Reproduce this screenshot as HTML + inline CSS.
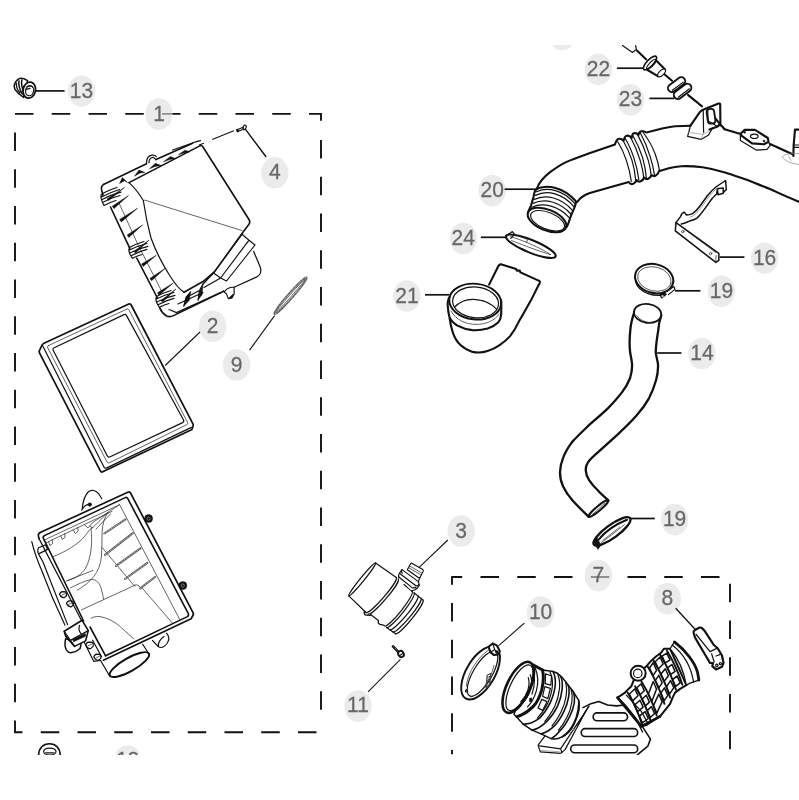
<!DOCTYPE html>
<html><head><meta charset="utf-8"><title>Air cleaner parts diagram</title>
<style>
html,body{margin:0;padding:0;background:#fff;}
body{width:799px;height:800px;overflow:hidden;font-family:"Liberation Sans",sans-serif;}
svg{display:block}
.lb ellipse{fill:rgba(222,222,222,.62)}
.lt text{font-family:"Liberation Sans",sans-serif;font-size:21px;fill:#666;stroke:#666;stroke-width:.25;text-anchor:middle}
.fr{fill:none;stroke:#111;stroke-width:1.9}
.ld{fill:none;stroke:#111;stroke-width:1.05}
.p{fill:none;stroke:#111;stroke-width:1.2;stroke-linecap:round;stroke-linejoin:round}
.w{fill:#fff;stroke:#111;stroke-width:1.15;stroke-linecap:round;stroke-linejoin:round}
.t{fill:none;stroke:#222;stroke-width:.7;stroke-linecap:round;stroke-linejoin:round}
.b{fill:none;stroke:#111;stroke-width:2.1;stroke-linecap:round;stroke-linejoin:round}
.nss *, .nssd{vector-effect:non-scaling-stroke}
.k{fill:#111;stroke:#111;stroke-width:.5;stroke-linejoin:round}
</style></head>
<body>
<svg width="799" height="800" viewBox="0 0 799 800">
<defs><clipPath id="cp"><rect x="0" y="45" width="799" height="709.3"/></clipPath></defs>
<rect width="799" height="800" fill="#fff"/>
<g clip-path="url(#cp)">
<path class="fr" d="M15.00 113.9H33.50M51.75 113.9H70.25M88.50 113.9H107.00M125.25 113.9H143.75M162.00 113.9H180.50M198.75 113.9H217.25M235.50 113.9H254.00M272.25 113.9H290.75M309.00 113.9H322.00M15 132.50V151.00M15 169.25V187.75M15 206.00V224.50M15 242.75V261.25M15 279.50V298.00M15 316.25V334.75M15 353.00V371.50M15 389.75V408.25M15 426.50V445.00M15 463.25V481.75M15 500.00V518.50M15 536.75V555.25M15 573.50V592.00M15 610.25V628.75M15 647.00V665.50M15 683.75V702.25M15 720.50V733.00M15 721.5V732.2H22.5M321 140.00V158.50M321 176.75V195.25M321 213.50V232.00M321 250.25V268.75M321 287.00V305.50M321 323.75V342.25M321 360.50V379.00M321 397.25V415.75M321 434.00V452.50M321 470.75V489.25M321 507.50V526.00M321 544.25V562.75M321 581.00V599.50M321 617.75V636.25M321 654.50V673.00M321 691.25V709.75M321 113V120.8M40.75 732.2H59.25M77.50 732.2H96.00M114.25 732.2H132.75M151.00 732.2H169.50M187.75 732.2H206.25M224.50 732.2H243.00M261.25 732.2H279.75M298.00 732.2H316.50M451.20 577H462.25M480.50 577H499.00M517.25 577H535.75M554.00 577H572.50M590.75 577H609.25M627.50 577H646.00M664.25 577H682.75M701.00 577H719.50M452 577.00V584.75M452 603.00V621.50M452 639.75V658.25M452 676.50V695.00M452 713.25V731.75M452 750.00V760.00M730 583.75V602.25M730 620.50V639.00M730 657.25V675.75M730 694.00V712.50M730 730.75V749.25"/>
<g class="lb"><ellipse cx="81.5" cy="91.2" rx="13.7" ry="15.8"/><ellipse cx="159" cy="114" rx="13.7" ry="15.8"/><ellipse cx="274.8" cy="172.8" rx="13.7" ry="15.8"/><ellipse cx="212.7" cy="326.3" rx="13.7" ry="15.8"/><ellipse cx="236.6" cy="365" rx="13.7" ry="15.8"/><ellipse cx="461.2" cy="531" rx="13.7" ry="15.8"/><ellipse cx="358" cy="706" rx="13.7" ry="15.8"/><ellipse cx="540.6" cy="612" rx="13.7" ry="15.8"/><ellipse cx="598.4" cy="575.6" rx="13.7" ry="15.8"/><ellipse cx="667.3" cy="598.6" rx="13.7" ry="15.8"/><ellipse cx="674.6" cy="519.6" rx="13.7" ry="15.8"/><ellipse cx="702" cy="353.5" rx="13.7" ry="15.8"/><ellipse cx="721.4" cy="291.3" rx="13.7" ry="15.8"/><ellipse cx="764.6" cy="258.2" rx="13.7" ry="15.8"/><ellipse cx="406.9" cy="296" rx="13.7" ry="15.8"/><ellipse cx="463.3" cy="238.5" rx="13.7" ry="15.8"/><ellipse cx="492.2" cy="190.6" rx="13.7" ry="15.8"/><ellipse cx="598.4" cy="69.4" rx="13.7" ry="15.8"/><ellipse cx="630.5" cy="99.9" rx="13.7" ry="15.8"/><ellipse cx="127.6" cy="761" rx="13.7" ry="15.8"/><ellipse cx="562.2" cy="34.5" rx="13.7" ry="15.8"/></g>
<g class="lt" style="opacity:.995"><text transform="translate(81.5 97.7) scale(1 1.07)">13</text><text transform="translate(159 120.5) scale(1 1.07)">1</text><text transform="translate(274.8 179.3) scale(1 1.07)">4</text><text transform="translate(212.7 332.8) scale(1 1.07)">2</text><text transform="translate(236.6 371.5) scale(1 1.07)">9</text><text transform="translate(461.2 537.5) scale(1 1.07)">3</text><text transform="translate(358 712.5) scale(1 1.07)">11</text><text transform="translate(540.6 618.5) scale(1 1.07)">10</text><text transform="translate(598.4 582.1) scale(1 1.07)">7</text><text transform="translate(667.3 605.1) scale(1 1.07)">8</text><text transform="translate(674.6 526.1) scale(1 1.07)">19</text><text transform="translate(702 360.0) scale(1 1.07)">14</text><text transform="translate(721.4 297.8) scale(1 1.07)">19</text><text transform="translate(764.6 264.7) scale(1 1.07)">16</text><text transform="translate(406.9 302.5) scale(1 1.07)">21</text><text transform="translate(463.3 245.0) scale(1 1.07)">24</text><text transform="translate(492.2 197.1) scale(1 1.07)">20</text><text transform="translate(598.4 75.9) scale(1 1.07)">22</text><text transform="translate(630.5 106.4) scale(1 1.07)">23</text><text transform="translate(127.6 767.5) scale(1 1.07)">12</text></g>
<!-- p01_cover.svg -->
<g id="cover">
<!-- lid face -->
<path class="b" style="stroke-width:1.6" d="M129 182.6L200.3 145.6Q202 145.3 203 147L249 219.5Q250.6 222 249 224.2L242 233.5L214.6 271.6L203 281.5L184 292.3"/>
<path class="p" d="M129 182.6C135 188 140 195 143.3 200.5C145 212 147.5 225 151 238C156 252 163 265 170 276C175 284 179 289 184 292.3"/>
<path class="t" d="M143.3 200.5C145 199.5 147 200.8 149 201.5L242 230.6"/>
<!-- top rim -->
<path class="b" style="stroke-width:1.6" d="M104 184.3L146.5 163.8M156 159.6L192.6 143.2"/>
<path class="p" d="M172.6 150L194.6 142.2L200.5 140.6"/>
<path class="b" style="stroke-width:1.6" d="M104 184.3C101.5 185.6 101 187.5 101.6 190L103 195.2"/>
<path class="p" d="M146.5 163.8C146.3 159 148.5 155.6 152 155.2C154 155 155.5 155.6 156.3 156.6M149 162.8C148.8 159.6 150.5 157.2 153.2 157.3L156 159.6"/>
<!-- top ribs -->
<path class="k" d="M119.6 183.5L122.3 177.6L127.6 182.6L124.5 180.8ZM134.5 176.2L139 170L144.8 172.5L140 173ZM149.5 168.8L155.5 163.3L161 165.5L155 166.4ZM163.5 161.8L170.5 156.6L175.5 158.6L169.5 159.6ZM178.5 154.6L185 150.2L189.8 151.8L184 153Z"/>
<!-- left edge -->
<path class="b" style="stroke-width:1.6" d="M110.5 207L129.8 248.3M136.8 258.2L157.4 298"/>
<path class="t" d="M119 203L137.5 243.7L161.6 291.2"/>
<!-- left ribs -->
<path class="k" d="M112.3 206.2L128.5 195.5L114 208.6ZM119.6 219.6L137.5 208.3L121.3 222ZM127.2 235L142.5 225L128.8 237.4ZM141.6 264L156.3 255.2L143.2 266.4ZM149.9 278.4L165 268.5L151.5 280.8ZM157.5 292.8L173.3 283L159 295.2Z"/>
<!-- top-left clip -->
<path class="p" d="M101.2 194.5C105 192 112 189 117 187.5M101 197.2C106 194.5 113 191.5 119.5 189.5M101.6 199.8C107 197 114 194 121 192.2M102.5 202.5C108 199.5 114 197 120 195.5M104 205.5C108 203.5 112 201.5 116 200.5M101.2 194.5C100.5 197 101.5 201 104 205.5"/>
<path class="k" d="M107 199L124.5 187.5L108.6 200.6Z"/>
<!-- mid-left clip -->
<path class="p" d="M129.5 247.5C133 245.5 139 243 144 241.5M129 250.2C134 247.5 141 245 147 243.5M129.8 253C135 250.2 142 247.6 148 246.3M131 255.7C136 253 142 250.5 147 249.3M132.5 258.3C136 256.5 139 255.3 142 254.5M129.5 247.5C128.3 250 129.5 254.5 132.5 258.3"/>
<path class="k" d="M134 251.5L149 240L135.6 253Z"/>
<!-- bottom-left clip -->
<path class="p" d="M156.5 296.5C160 294.5 166 292 171 290.5M156 299.2C161 296.5 168 294 174 292.5M156.8 302C162 299.2 169 296.6 175 295.3M158 304.7C163 302 169 299.5 174 298.3M159.5 307.3C163 305.5 166 304.3 169 303.5M156.5 296.5C155.3 299 156.5 303.5 159.5 307.3"/>
<path class="k" d="M161 300.5L176 289L162.6 302Z"/>
<!-- bottom flange -->
<path class="b" style="stroke-width:1.6" d="M159.6 307.6C161 311 163.5 314 166.5 316C168.5 317 171 316.8 173.5 315.6L223.6 291.2"/>
<path class="p" d="M169 309.5L176.5 312.6L220.6 292.6M178 304L203 292.5"/>
<path class="p" d="M223.6 291.2L226.6 294.1L228.3 298.6L231.9 297.9L234.1 294.1L234.1 287.3M225 291C227 288.5 231 287 234.1 287.3"/>
<path class="k" d="M183.8 306.1L186.4 297.6L190.6 291.9L189.2 300.4ZM198.1 300.1L200 291.1L202.8 284.3L202.2 294.6ZM228.3 298.6L231.9 297.9L233 294Z"/>
<path class="p" d="M183.8 306.1L186 297.5L190.6 291.9M198.1 300.1L199.5 290.5L202.8 284.3M186 297.5L199.5 290.5"/>
<!-- right steps -->
<path class="p" d="M242 234.3L249 240.2L255 245M242 234.3L213.5 273M249 240.2L220.6 278M255 245L226.5 281M213.5 273L220.6 278L226.5 281M214.6 271.6L203 283.6M220.6 278L204 287.5M213.5 273L202.8 284.3"/>
<!-- right body -->
<path class="p" d="M253.6 251.3L260.4 267.5C261.5 271 260.5 274.5 257.4 276.6L234.1 287.3"/>
<!-- screw 4 + centerline -->
<path class="ld" d="M233.8 130.8L212.2 139.6M204 143.2L199 145"/>
<path class="p" d="M236.6 130L243.2 127.2M237.4 131.8L244 129"/>
<ellipse cx="244.6" cy="127.4" rx="1.5" ry="2.3" transform="rotate(20 244.6 127.4)" class="p"/>
<path class="k" d="M236.3 129.6L238 129L238.8 131.4L237.2 132Z"/>
<path class="ld" style="stroke-width:1.4" d="M245.3 129.2L266.2 157"/>
</g>

<!-- p02_filter.svg -->
<g id="filter">
<path class="b" style="stroke-width:1.7" d="M44 343.3L128.8 304.1Q130.4 303.4 131.2 305L192.8 423.6Q193.8 425.6 192.6 427.2L192 429.4L103.2 471.6Q101.2 472.8 100.2 470.6L39.6 353.2Q38.6 351.2 40 349.4L42 345.2Q42.6 343.9 44 343.3Z"/>
<path class="p" d="M42.4 345.2L103.8 466.8Q104.8 468.9 106.8 467.9L191.4 427.4"/>
<path class="t" d="M48.4 345.6L127 309Q128.2 308.4 128.8 309.6L187.6 422.4Q188.4 423.9 186.9 424.6L109.4 462.8Q107.9 463.6 107.1 462.1L47.6 347.6Q46.9 346.3 48.4 345.6Z"/>
<path class="p" d="M54.2 347.8L124 314.6Q125.6 313.8 126.4 315.4L183.4 419.8Q184.4 421.6 182.6 422.6L110.2 456.8Q108.2 457.8 107.2 455.8L53.2 350.2Q52.4 348.6 54.2 347.8Z"/>
<path class="ld" d="M165.2 365.5L200 332"/>
</g>

<!-- p03_housing.svg -->
<g id="housing">
<!-- outlet tube behind -->
<path class="p" d="M100.6 660.5L109.8 676.2M142.7 644.3L148.9 654"/>
<ellipse cx="129.4" cy="664.6" rx="22.4" ry="6.6" transform="rotate(-29.5 129.4 664.6)" class="b" style="stroke-width:2"/>
<!-- lower mount stub -->
<path class="p" d="M152.5 640.5L158.5 646.8C161 648.2 164.5 646.8 167 643.5C169 640.5 169.3 637 167.6 634.6L166.5 633.2M158.5 646.8C157.5 643.5 160 639 164 636.5"/>
<!-- top hinge arch -->
<path class="p" d="M82.2 509.8C82.6 504 84.6 495.5 88.4 491.8C91.5 489.2 96 490.2 99 494.2L101.8 498.8M81.6 510L84.8 506C86.4 504.6 89 504 91 504.6"/>
<circle cx="89.8" cy="504.6" r="1.8" class="k"/>
<!-- rim -->
<path class="b" style="stroke-width:1.7" d="M40.2 532.6L127.8 492.2Q129.7 491.4 130.6 493.2L192.9 612.4Q194.2 614.8 192 616.8L191.6 618.4L103.4 660.2"/>
<path class="b" style="stroke-width:1.7" d="M40.2 532.6Q38 533.8 38.4 536L39 538.6"/>
<path class="b" style="stroke-width:1.6" d="M44.4 535.6L125.2 497.6Q126.9 496.8 127.8 498.6L188.2 613.4Q189.2 615.4 187.4 616.6L105.6 655.8"/>
<path class="b" style="stroke-width:1.6" d="M44.4 535.6Q42.6 536.6 43.4 538.4L83.6 621M90 627L105.6 655.8"/>
<path class="p" d="M39 538.6L81.6 620.8"/>
<!-- inner wall lines right -->
<path class="t" d="M119.3 504.1L179.9 619.8M142 587.9L172.3 623"/>
<!-- bolts -->
<circle cx="148.6" cy="518.6" r="4" class="k"/><circle cx="148.6" cy="518.6" r="1.6" fill="none" stroke="#999" stroke-width=".7"/>
<circle cx="182.8" cy="585.6" r="4" class="k"/><circle cx="182.8" cy="585.6" r="1.6" fill="none" stroke="#999" stroke-width=".7"/>
<!-- under-rim double line and teeth -->
<path class="t" d="M44 540.2L119 505M45.6 543L112 511.4"/>
<path class="t" d="M48.6 541.6L49.8 545.6L52.6 543.6L52.2 539.8M60.8 536L62.2 539.4L65 537.4L64.8 533.6M73.4 530L75.4 533.6L78.2 531L77.6 527.4M84.4 524.6L88 528L92.6 522.6L119 505M92.6 527.8L107.8 512.6M92.6 527.8L90.2 526.4M96 529L110.5 514"/>
<!-- floor contours -->
<path class="t" d="M53.2 556.6C64 552.4 78 545 85.6 535.2C88.6 531 90.6 528.6 92.2 527.6"/>
<path class="t" d="M91.1 528.2C91.6 536 92 542 91.1 548.8C90.4 556 88.6 562.4 85.6 568.2C81.6 574.6 75 578.6 67.6 580.6"/>
<path class="t" d="M107.8 512.6C104.6 517 102.4 524 102.1 532.3C101.8 541 102 549 101.4 557.2C100.4 564.6 98 571.6 93.8 576.4C89.6 582 83.6 586.6 77.2 590.2"/>
<path class="t" d="M102.1 547.5L134.4 586M66.3 581L93 570.4M81.4 609.9L135.1 585.1M135.1 585.1C137.2 584.2 139 585.4 139.9 587.4M70.4 588C76 585.4 84 580.6 91.1 579.6C96 579 100 583 101.4 589.4C102.6 594 103.4 597 103.5 599"/>
<path class="t" d="M91.1 618.3C94 616.4 98 616 102 617C110 619 117 623.4 121.4 627.8C126.6 632.6 130.6 636 133.8 638.9"/>
<!-- ribs -->
<g stroke="#555" stroke-width="2.1" fill="none" stroke-linecap="round"><path d="M104.3 533.5L125.4 519.3M105 554.8L132.8 533.2M116 565.8L140.4 548.3M125 579L147.3 562.8M140.2 588.4L155 577"/></g>
<g stroke="#fff" stroke-width=".7" fill="none" stroke-dasharray="1.2 .8"><path d="M104.3 533.5L125.4 519.3M105 554.8L132.8 533.2M116 565.8L140.4 548.3M125 579L147.3 562.8M140.2 588.4L155 577"/></g>
<!-- left rails -->
<path class="p" d="M31.8 541.6C34 551 37.4 560.6 41.5 570C47.6 586.6 56 606.6 64.9 625M38.8 554.4L43 562L67.6 624.6M38.6 547.8L45.4 544.8L47.6 549.4L39.6 553.4M38.8 554.4C37.6 552 37.4 549.6 38.6 547.8"/>
<!-- small tabs on rail -->
<path class="p" d="M59.6 594.4Q60 591.8 62.6 591.6L65.6 591.8Q67 593.6 66.4 595.8L64.2 597.6Q61.2 598 59.6 594.4ZM66.4 603.6Q67 601 69.6 600.8L72.6 601Q74 602.8 73.4 605L71.2 606.8Q68.2 607.2 66.4 603.6Z"/>
<path class="t" d="M61.6 595.2L65.2 593.6M68.4 604.4L72 602.8"/>
<path class="p" d="M85.8 645Q86.2 642.4 89 642.2L92.4 642.4Q93.8 644.2 93.2 646.4L90.6 648.6Q87.4 649 85.8 645ZM93.8 657Q94.4 654.4 97 654.2L100 654.4Q101.4 656.2 100.8 658.4L98.6 660.2Q95.6 660.6 93.8 657Z"/>
<path class="t" d="M87.8 646L91.6 644.2M95.8 658L99.4 656.2"/>
<path class="p" d="M84.4 642.6L93.8 661.4L100.6 660.5M92.6 640.2L101.6 656.8"/>
<!-- latch -->
<path class="w" style="stroke-width:1.5" d="M65.6 638.8C64.6 643 65 647 66.3 649.8C68 652.4 70 653 71.8 652.6C75 652 78 650.4 80.1 648.5L81.2 643.6Z"/>
<path class="w" style="stroke-width:1.6" d="M64.2 631.3L82.1 620.3L88.3 630.6L85.6 640.9L74.6 646.4L65.6 636.1Z"/>
<path class="p" d="M64.2 631.3L70.4 640.4L88.3 630.6M70.4 640.4L74.6 646.4M79.6 625.4C78.6 628 79 631.6 81.4 634.2"/>
<path class="k" d="M72.8 639.6L85.4 633.6L85.6 636.2L73.6 641.8Z"/>
</g>

<!-- p04_maf.svg -->
<g id="maf">
<!-- section1 -->
<path class="p" d="M375.6 562.9L396.3 577.4M348.8 595.9L366 612.5"/>
<ellipse cx="362.2" cy="579.4" rx="21.3" ry="1.9" transform="rotate(-50.9 362.2 579.4)" class="p"/>
<!-- band1 -->
<path class="p" d="M396.3 577.4A23.2 3.6 -49.2 0 1 366 612.5M398.3 579A23.2 3.6 -49.2 0 1 368 614.1"/>
<path class="p" d="M366 612.5L364.2 611.6Q363.6 614.4 366 615.2L370.6 615.4"/>
<!-- section2 -->
<path class="p" d="M404 584.5L412.1 591.3M370.6 614.6L378.4 620.6M378.4 620.6Q377.6 623.4 380 624.4L384.2 625.4"/>
<!-- band2 -->
<path class="p" d="M412.1 591.3A22 3.6 -51.4 0 1 384.6 625.9M414 592.8A22 3.6 -51.4 0 1 386.5 627.4"/>
<!-- end -->
<path class="p" d="M414 592.8L423.1 600.1M386.5 627.4L395.6 633.8"/>
<path class="p" d="M417.6 595.7A21.5 3.4 -50.3 0 1 390.1 629.9M421 598.2A21.5 3.4 -50.3 0 1 392.8 631.9M423.1 600.1A21.8 3.4 -50.8 0 1 395.6 633.8"/>
<!-- tower -->
<path class="w" d="M398.6 577.6Q398.2 574.6 400.2 572L402 569.6L418.4 581.6L419.4 585.4L416.8 588.6L414.6 590L411.6 590.8"/>
<path class="p" d="M399.4 573.2L415.6 585.4Q417.2 586.6 418.6 584.6M398.8 577L411.8 587.4Q413.4 588.6 415 587.2L416.8 588.6M402 569.6Q400.6 571.6 402.2 573"/>
<path class="w" d="M407.3 569.8L410.6 563.7Q411.2 562.8 412.2 563.4L422.8 569.6Q423.6 570.2 423.2 571.2L420 577.4Q419.4 578.2 418.6 577.8Z"/>
<path class="p" d="M420 577.4L418.4 581.6"/>
<path class="t" d="M409.6 566L421.6 572.8M408.8 567.8L420.6 574.6"/>
<path class="ld" d="M419.2 567.4L447.8 540"/>
</g>

<!-- p05_screw11.svg -->
<g id="screw11">
<path d="M393 646.4L399 652.6" stroke="#111" stroke-width="2.8" stroke-linecap="round" fill="none"/>
<path d="M393.4 646.6L398.6 652" stroke="#ddd" stroke-width=".8" stroke-dasharray="1 1" fill="none"/>
<ellipse cx="401" cy="654" rx="2.7" ry="3.2" transform="rotate(-30 401 654)" fill="#fff" stroke="#111" stroke-width="1.9"/>
<path class="p" d="M399.6 655.8L402.4 653.6"/>
<path class="ld" d="M368 691.8L400.4 659.4"/>
</g>

<!-- p06_pipe20.svg -->
<g id="pipe20">
<!-- body upper edge -->
<path class="b" d="M537 188.5C538.5 184 543 177.5 550.1 172.1C555 168.5 560 165 566.1 162.1C574 158.6 582 156 590.1 153.1L615 144.4C616 141 617.4 139 618.8 138.8C621 138.4 622.4 139.4 623.6 140.8C624.2 137.6 625.6 135.9 626.9 135.7C629 135.4 630.4 136.4 631.6 138C632 135 633 133.4 633.8 133.2C636 132.8 637.4 133.6 638.4 135C638.8 132.8 640 131.6 641.3 131.3C643.4 131 645 131.6 646.3 132.5L656.3 130C663 128.4 669 127 675.1 126.3L690.5 125.7"/>
<!-- body lower edge -->
<path class="b" d="M577.1 202C579 199 582 196.6 585.1 195C588 193.4 591.6 192.4 595.1 191.5L628.8 182C630 184 631.6 184.4 633.2 183.8C635 183 636 181.6 636.4 180C638 181.6 639.4 182 640.7 181.3C642.6 180.4 643.6 179 644 177.6C645.6 179 647 179.4 648.2 178.8C650 178 651 176.6 651.5 175.2C653 176.2 654.4 176.4 655.7 175.7C657.6 174.6 658.6 173 658.8 171.3L668.8 168.2C673 167.2 677 166.6 681.4 166.3C688 165.9 695 166.4 702.5 167.3C710 168.4 718 170.4 725 172.5C733 175 740 177.5 747.5 180C755 183 762 186 770 189C780 193.6 790 198 799.5 202"/>
<!-- bellows ridges -->
<path class="p" d="M617.5 141.3C621 147 624.2 153.6 626.3 160.1C628.6 167 630.4 174.6 631.3 181.3M623.2 140.7C626.6 146.6 629.8 153.6 631.9 160.1C634 167 635.2 174 635.7 180.1M625 138.2C628.6 144 631.6 151 633.8 157.6C636.2 165 638 172.6 638.8 179.5M630.7 137.5C634.6 144.6 637.8 152.6 640.1 160.1C642 166.6 643.4 173 643.8 178.8M632.5 135C636.6 142 640.2 150 642.6 157.6C644.6 164.6 645.8 171.4 646.3 177.6M637.5 134.4C641.8 142.2 645.6 151.6 648.2 160.1C649.8 165.6 650.8 171 651.3 176.3M640.1 132.5C644 139.6 647.6 148 650.1 156.3C652 162.4 653.6 168.6 654.4 174.5M643.2 132.5C648 139 652.4 146.4 655.1 153.8C657.2 159.4 658.6 165 659.4 170.1"/>
<!-- mouth -->
<path class="b" d="M537 188.5L535 191C534 193.4 533.8 195.4 533.5 197L531 205.6C530 208.4 528.4 210.6 527.8 213.4M576.1 202C575.6 204.4 574.8 206.4 574.1 208.4L571.1 215.4L568.6 222.6L567 226.6"/>
<path class="b" d="M535 189.6C541 186.6 548 186 555.5 188C563 190 570 194.6 575.6 201"/>
<path class="p" d="M536.6 191.8C542 189.2 549 188.8 555.4 190.6C562.6 192.6 569 196.6 574.6 203.4M535.4 195.4C541 192.6 548 192 555 193.8C562 195.8 568.4 200 573.6 206.4M534.4 199.4C540 196.6 547 196.2 553.6 198C560.6 200 567 204 572.2 210.2M533 203.4C539 200.6 545.6 200.2 552.2 202C559.2 204 565.6 208 570.8 214M531.8 207.2C537.6 204.6 544.4 204.4 551 206.2C558 208.2 564.2 212 569.4 217.8"/>
<ellipse cx="547" cy="220" rx="20.4" ry="10.4" transform="rotate(22 547 220)" class="b" style="stroke-width:2.1;fill:#fff"/>
<ellipse cx="547.6" cy="220.8" rx="18" ry="8.4" transform="rotate(22 547.6 220.8)" class="p"/>
<path class="fr" style="stroke-width:1.7" d="M504.6 189.2H534.6"/>
<!-- bracket on pipe -->
<path class="b" d="M690.5 125.7L699.8 112.2Q701.6 110 704.2 109.2L718.6 103.6Q720.2 103.2 720.2 104.8L720.4 123.6L717.6 126.4L709.4 129.6"/>
<path class="p" d="M707.6 108.2L708.2 121M703.2 110.4L703.6 132.6M690.5 125.7L687.6 136.4L701 139.4L708.6 135L712.2 128.4M717.6 126.4L708.2 121" />
<path class="t" style="stroke:#999" d="M688.4 132.4L703.4 134.4L709.6 130.6M701 139.4L703.6 132.6"/>
<rect x="707.2" y="109" width="7.6" height="14.6" rx="3" ry="3" transform="rotate(-8 711 116.3)" class="b" style="stroke-width:1.8"/>
<path class="b" d="M715.6 118.6L719.6 123.6L724.6 129.2"/>
<path class="p" d="M719.2 125.6Q722.6 125.2 724.6 129.2"/>
<path class="b" d="M724.6 129.2L740.6 134"/>
<!-- axis line to bracket -->
<path class="ld" d="M687.5 94.5L701.8 106.5"/>
<!-- oval flange -->
<path class="b" d="M740.8 133.6L744.5 129.9H755L767.8 138L768.5 141.8L764 144.2L752 143.4L741.4 135.6Z"/>
<path class="p" d="M740.4 135V140.4L756.6 150.2L767 149.4L770.2 145.4L768.5 141.8"/>
<ellipse cx="754.3" cy="136.3" rx="3.8" ry="2.2" class="p"/>
<circle cx="744.6" cy="132.3" r="1" class="k"/><circle cx="764" cy="141" r="1" class="k"/>
<path class="b" d="M770 144L792.6 154.2"/>
<!-- right boss at edge -->
<path class="b" d="M799.5 129.6H795L793.6 145.6L793.4 156"/>
<path class="p" d="M793.8 145H799.5M793.6 147.4H799.5"/>
<path class="t" style="stroke:#888" d="M799.5 153.6C792 153.2 784 154 782.4 156.6C784 160 789 163.4 799.5 164.6M788.6 156.4L791 160.4"/>
</g>

<!-- p07_p22_23.svg -->
<g id="p2223">
<path class="p" d="M622.5 45.6L632.5 52.5L636.3 49.4L635.7 45.6"/>
<path class="b" d="M636.9 50.6L646.3 59.4M663.8 73.8L672 80.7M688.2 95.1L702 106.3"/>
<!-- 22 -->
<path class="w" d="M655.4 59.6L665.1 69.4L658.2 76.3L647.2 69.4Z" style="stroke:none"/>
<path class="b" d="M655.7 60L665.1 69.4M647.5 70L658.2 76.3"/>
<ellipse cx="661.6" cy="72.9" rx="4.9" ry="2.4" transform="rotate(-45 661.6 72.9)" class="w"/>
<ellipse cx="650" cy="63" rx="9" ry="3.2" transform="rotate(-46 650 63)" class="w" style="stroke-width:1.7"/>
<ellipse cx="651.4" cy="64.2" rx="6.4" ry="2" transform="rotate(-46 651.4 64.2)" class="p"/>
<path class="fr" style="stroke-width:1.7" d="M616.9 68.2H643.4"/>
<!-- 23 -->
<g transform="rotate(-37 682.6 91.4)"><rect x="672.6" y="87.4" width="20" height="8" rx="4" class="w" style="stroke-width:1.9"/><path class="p" d="M675.6 93.4H689.6"/></g>
<g transform="rotate(-37 676.6 84.6)"><rect x="666.8" y="80.6" width="19.6" height="8" rx="4" class="w" style="stroke-width:1.9"/><path class="p" d="M669.8 86.6H683.4"/></g>
<path class="fr" style="stroke-width:1.7" d="M649.4 98.4H674.4"/>
</g>

<!-- p08_elbow21_ring24.svg -->
<g id="elbow21">
<!-- body -->
<path class="b" d="M449.6 318C450.4 324 451.6 329 453 333.1C455 338.6 457.6 342.4 460.5 345.1C464 348.4 468 350.6 472.5 351.9C477.6 353 483 352.6 487.6 351.1C492 349.6 496 347.6 499.6 345.1C503.6 342.4 507 339.6 510.1 336.1C513.6 331.6 516.6 326.4 519.1 321.1L531.1 300.1L538.6 285Q541.2 281.6 538.6 280.6L520.4 272.4L519.8 270.6L516.6 270.6L516.2 269L501.6 264.4Q499.4 264 498.4 266L489.1 284.6"/>
<!-- collar -->
<path class="b" d="M449.3 297.1C448 300 447.4 303 447.8 306.1C448 310 448.6 313.6 449.3 316.6C451 320.6 454 323.6 457.5 325.6C462 328 467 329.6 472.5 330.1C478 330.4 483 329.8 487.6 328.6C491.6 327.4 495.2 325.4 498.1 322.6C499.8 320.6 500.8 318 501.1 315.1C501.4 310 501.4 305 501.1 300.1"/>
<!-- rim -->
<ellipse cx="475.2" cy="301.6" rx="26" ry="17.8" transform="rotate(6 475.2 301.6)" class="b" style="stroke-width:1.9"/>
<ellipse cx="475.6" cy="302.4" rx="23" ry="15.4" transform="rotate(6 475.6 302.4)" class="p"/>
<path class="p" d="M454.6 307C460 301.6 466.6 299.2 473.6 299.4C482 299.6 490.6 303 496.6 309.2"/>
<path class="t" d="M451 311C456 320 466 324.4 476 324.4C486 324.4 495 320.6 499.2 314"/>
<path class="fr" style="stroke-width:1.7" d="M425 294.8H449.4"/>
</g>
<g id="ring24">
<ellipse cx="530.8" cy="246.3" rx="26.8" ry="6.3" transform="rotate(22.3 530.8 246.3)" class="b" style="stroke-width:2.1"/>
<path class="t" d="M510.6 236.6C522 240 541 248 550.6 254.6M511.6 240.6C524 245.4 540 251.6 550.6 254.6M514.6 234.4L527.6 239.6L526.4 242.6"/>
<path class="p" d="M508 234.4L512.4 231.6L514.6 234.4L510.8 238.4"/>
<path class="fr" style="stroke-width:1.7" d="M480.8 237.3H507.2"/>
</g>

<!-- p09_hose14.svg -->
<g id="hose14">
<path class="b" style="stroke-width:2.3" d="M634.3 312.1C632 319 630.6 325 630.3 330.1C629.6 337 629.2 345 630.1 352C630.8 357 632.2 361.6 632.1 366C632 370 631.4 374 630.1 378C628.2 383 625.4 387.8 622.1 392.1C618 397.6 613 403 608.1 408.1C602.4 413.6 596 419 590.1 424.1C584 430 577.6 436 572 442.1C568.4 447 565 452.6 563 458.1C561.2 462.6 560.2 467.6 560 472.2C560 477 561 482 563 486.2C565.4 491.4 569 496.4 572.6 500.4C577.6 506 583.6 511.8 588.8 516.8"/>
<path class="b" style="stroke-width:2.3" d="M661.3 315.1C659.6 320 658.6 325 658.3 330.1C657 337.6 656 345 655.7 352C656 357 658.2 361.6 658.1 366C658 371 657.4 375.6 656.1 380C654.4 386 652 392.4 649.1 398.1C645.6 404.4 641 410.6 636.1 416.1C630.6 422.4 624 428.6 618.1 434.1L598.1 452.1C594 455.6 590.6 458.6 588.1 462.1C586.4 464.6 585.6 467.4 585.7 470.2C586 474 587.2 477.4 589.1 480.2C591.6 484 594.6 487.4 597.5 490C601 494 605 497.4 608.3 500.3"/>
<ellipse cx="647.6" cy="313.4" rx="13.7" ry="9.4" transform="rotate(8 647.6 313.4)" class="b" style="stroke-width:1.9;fill:#fff"/>
<path class="t" d="M636.8 315.6C640 320 646 322.8 651.6 322.6C655.6 322.4 658.6 320.6 660 318"/>
<ellipse cx="598.5" cy="508.5" rx="12.8" ry="2.3" transform="rotate(-40.2 598.5 508.5)" class="b"/>
<path class="t" d="M592.5 514.4L604.6 503.4"/>
<path class="fr" style="stroke-width:1.7" d="M657.2 353H681.4"/>
</g>
<g id="clamp19a">
<ellipse cx="654.2" cy="278.6" rx="19.4" ry="14.4" transform="rotate(14 654.2 278.6)" class="b" style="stroke-width:2"/>
<ellipse cx="654.4" cy="279" rx="17" ry="12" transform="rotate(14 654.4 279)" class="t"/>
<path class="p" d="M635.4 281.4C637 287.4 642 291.4 648 293.6C652 295 656.6 295.6 660 295.4M667.6 291L673.8 286.4L675 289.4L668.4 294.6"/>
<path class="k" d="M659.4 294.4L664.4 291.4L666.6 294.6L661.6 298.4Z"/>
<circle cx="662.6" cy="296.2" r="1.1" fill="#ccc"/>
<path class="fr" style="stroke-width:1.7" d="M675 290.8H700.4"/>
</g>
<g id="clamp19b">
<ellipse cx="612" cy="531.4" rx="22.4" ry="6.5" transform="rotate(-36.1 612 531.4)" class="b" style="stroke-width:2.4"/>
<path d="M598.6 539.6C604 533 615 524.6 627 519.8" fill="none" stroke="#111" stroke-width="2" stroke-linecap="round"/>
<path class="t" d="M601.5 542.4C609 537 617 531 624.4 524.6M603 540.2L619.6 527.2"/>
<path class="k" d="M593.8 542.4L596.8 537.2L601 545L598 549.4Z"/>
<path class="fr" style="stroke-width:1.7" d="M630 518.5H654.8"/>
</g>
<g id="bracket16">
<path class="p" style="stroke-width:1.5" d="M676 222.6L718.8 253.4L718.8 260.4L715.8 262.4L675.3 230.8Z"/>
<path class="t" d="M681.6 227L715.6 252.4M715.8 262.4L716 255.6"/>
<circle cx="682.8" cy="231.6" r="1.2" class="t"/><circle cx="710.6" cy="253.6" r="1.2" class="t"/>
<path class="p" style="stroke-width:1.5" d="M676 222.6L680.5 216.6L682 213.6L684.3 212.1L686.5 215.1C688.6 215 690.8 214.4 692.5 213.6C695.4 211.6 697.8 209 700 206C702.6 202.4 705 199 707.5 195.5C710.4 192 713.4 189 716.6 186.5L725.6 180.5L726.3 189.5L722.6 193.3M681.3 224.1C684 223.4 686.8 222.2 689.5 221.1C692.2 220.4 694.8 219.6 697 218.1C699.8 215.4 702.2 212.4 704.5 209.1L712.1 198.5C713.8 196.6 715.4 195.4 716.6 194L717.3 189.5M717.3 188.8L723.3 188L723.3 193.3L718.1 194.8Z"/>
<path class="t" style="stroke:#777" d="M690 217.4C694 215.6 697.4 212.6 700.4 208.6C704 203.6 708 197.6 712.4 192.4L718 187.6"/>
<path class="fr" style="stroke-width:1.7" d="M719.6 257.1H744.4"/>
</g>

<!-- p09_seal.svg -->
<g id="seal9">
<g transform="rotate(-48.7 290.5 295.7)">
<ellipse cx="290.5" cy="295.7" rx="24.6" ry="2.6" fill="none" stroke="#444" stroke-width="1.5"/>
<ellipse cx="290.5" cy="295.7" rx="24.6" ry="2.6" fill="none" stroke="#fff" stroke-width=".6" stroke-dasharray="1 1"/>
<ellipse cx="290.5" cy="295.7" rx="22.6" ry="1" fill="none" stroke="#333" stroke-width=".7"/>
</g>
<path class="ld" d="M249.6 350.1L274.6 315.6"/>
</g>

<!-- p10_p12.svg -->
<g id="p12">
<path class="b" style="stroke-width:1.6" d="M38.6 755C38.8 748 43.4 743.8 49.4 743.8C55.6 743.8 60 748 60.2 755"/>
<ellipse cx="49.8" cy="751.6" rx="6.2" ry="3.5" class="p"/>
<path class="p" d="M45.6 752.8H54"/>
</g>

<!-- p11_clamp10.svg -->
<g id="clamp10" transform="translate(450 620) scale(0.13767)">
<g class="nss">
<ellipse cx="222" cy="385" rx="214" ry="104" transform="rotate(-59.5 222 385)" class="b" style="stroke-width:1.9"/>
<ellipse cx="236" cy="390" rx="186" ry="68" transform="rotate(-59.5 236 390)" class="p"/>
<path class="t" d="M118 480C130 380 200 270 285 215M150 560C220 540 290 450 320 330"/>
<path class="p" d="M270 402L296 388L288 478L262 494Z" style="stroke:#444"/>
<path class="t" d="M270 420L294 408M268 440L292 428M266 460L290 450M264 478L290 468"/>
<circle cx="120" cy="515" r="8" class="p"/>
<path class="w" d="M280 195L310 170L340 185L362 225L350 250L320 255L295 235Z" style="stroke-width:2"/>
<path class="p" d="M310 170L325 215L350 250M325 215L295 235"/>
<circle cx="340" cy="232" r="10" class="k"/>
<path class="ld" d="M352 188L540 22"/>
</g>
</g>

<!-- p12_hose7.svg -->
<g id="hose7a" transform="translate(490 640) scale(0.15019)">
<g class="nss">
<!-- box under bellows -->
<path class="p" d="M365 640L320 700L335 745L470 755L500 730L640 470"/>
<path class="p" d="M330 705L470 725L480 750M470 725L660 440"/>
<path class="t" style="stroke:#888" d="M340 735L468 745M540 570L560 600M520 600L545 625"/>
<!-- bellows fill -->
<path class="w" style="stroke-width:1.5" d="M285 165L350 200L420 210C440 215 460 228 470 240C490 255 505 280 520 300L555 345L590 400C600 440 590 500 560 560C540 600 515 630 480 645C455 660 430 662 410 658L340 625L280 600L220 560L160 495Z"/>
<!-- bellows arcs -->
<path class="b" style="stroke-width:1.6" d="M420 210C445 260 440 330 400 420C375 470 350 500 330 520C290 550 250 562 220 560M470 240C490 280 485 360 450 440C425 490 400 520 380 540C345 575 310 595 280 600M520 300C535 340 525 410 490 480C470 520 450 550 430 570C400 600 370 618 340 625M555 345C570 385 560 450 530 510C510 550 490 580 470 600C450 625 430 645 410 655M590 400C595 430 585 500 560 550C545 585 525 615 480 645"/>
<path class="p" d="M400 215C425 265 420 335 385 420C360 470 335 500 315 520M452 232C472 280 467 360 432 440C407 490 385 520 365 542M503 282C518 330 508 410 473 480C453 520 433 550 413 572M540 330C555 375 545 450 515 510C495 550 475 580 455 602"/>
<!-- windows -->
<path class="p" d="M370 225L410 240L405 300L368 290ZM365 310L402 322L385 390L350 375ZM345 395L380 410L350 470L320 452Z"/>
<!-- collar -->
<path d="M285 165L350 200C358 240 355 290 345 330C330 380 310 420 290 440C260 470 220 500 180 510" fill="none" stroke="#111" stroke-width="3" stroke-linecap="round"/>
<path class="p" d="M300 185C320 230 322 290 308 340C295 385 275 420 250 445"/>
<!-- front ring -->
<ellipse cx="188" cy="315" rx="184" ry="77" transform="rotate(-64.8 188 315)" class="b" style="stroke-width:2.6;fill:#fff"/>
<ellipse cx="196" cy="318" rx="166" ry="62" transform="rotate(-64.8 196 318)" class="p"/>
<path class="p" d="M268 232C290 280 270 370 215 420M255 250C270 300 250 365 205 410M280 175C300 230 300 300 280 360"/>
<path class="k" d="M262 390L278 385L280 410L264 412Z"/>
</g>
</g>
<g id="hose7b" transform="translate(590 620) scale(0.17522)">
<g class="nss">
<!-- box -->
<path class="b" style="stroke-width:1.6" d="M-40 500L0 480L50 465L100 485L150 490L200 485L240 520L300 610L345 680L330 720L270 770"/>
<path class="p" d="M-10 495L-70 600M240 520L300 640"/>
<rect x="18" y="530" width="196" height="45" rx="22" class="b" style="stroke-width:1.6"/>
<rect x="-50" y="620" width="322" height="45" rx="22" class="b" style="stroke-width:1.6"/>
<rect x="-110" y="713" width="382" height="45" rx="22" class="b" style="stroke-width:1.6"/>
</g>
</g>
<g id="hose7c" transform="translate(610 630) scale(0.12516)">
<g class="nss">
<path class="w" style="stroke-width:2" d="M480 150L430 150L410 180L370 210L330 245L290 290L250 330L190 400L170 450L120 500L60 540L120 600L200 700L250 770L290 760L350 720L400 690L440 640L480 590L500 540L520 500L560 470L610 440Z"/>
<path d="M455 165Q534 294 578 438M400 195Q482 328 527 477M345 240Q431 382 480 540M300 290Q386 432 435 590M250 410Q330 538 373 683M200 450Q280 578 323 723M140 500Q217 624 259 764" fill="none" stroke="#111" stroke-width="1.9" stroke-linecap="round"/>
<path d="M454 185L416 208L440 263L479 240ZM495 276L458 302L483 357L520 331ZM536 367L500 396L525 451L561 422ZM400 216L361 254L387 310L425 272ZM442 310L406 354L432 411L467 366ZM484 404L451 454L477 511L510 460ZM345 262L316 304L343 364L372 322ZM390 362L361 404L388 464L417 422ZM435 462L406 504L433 564L462 522ZM345 412L306 513L333 573L372 472ZM390 512L347 604L374 664L417 572ZM249 430L215 462L240 517L274 485ZM290 521L256 553L281 608L315 576ZM331 612L297 644L322 699L356 667ZM199 470L155 512L180 566L224 525ZM240 561L195 600L219 654L265 616ZM281 652L234 688L259 742L306 707Z" fill="none" stroke="#111" stroke-width="1.5" stroke-linejoin="round"/>
<path d="M250 770L400 690M60 540L250 770" fill="none" stroke="#111" stroke-width="2.6" stroke-linecap="round"/>
<path class="p" d="M130 520L250 650L300 740"/>
<circle cx="225" cy="345" r="60" class="w" style="stroke-width:2"/>
<circle cx="222" cy="347" r="34" class="p"/>
<path class="w" style="stroke-width:1.3" d="M480 150L515 95C600 160 680 260 700 340L710 400L640 425L610 440C590 330 540 220 480 150Z"/>
<path d="M515 95C600 160 680 260 700 340L710 400" fill="none" stroke="#111" stroke-width="2.8" stroke-linecap="round" stroke-linejoin="round"/>
<path class="p" d="M497 120C575 180 645 280 668 415"/>
</g>
</g>
<g id="clip8">
<path class="b" style="stroke-width:2.2" d="M693.6 632.8Q693.2 631 695 630L699.6 627.6Q701 627.2 702.2 628.4L704.8 631.1L713.8 645L717.5 648L722 655.5L723.5 663L722 666.8L716 669.4L712.3 666.2L713 663L710 663L695 637.5Z"/>
<path class="p" d="M696.2 634.5L710 651.6L716.8 648.4M711.6 653.8L714.2 662M716 656L720.4 654.4"/>
<circle cx="716.8" cy="665.4" r="1.2" class="p"/><circle cx="720.4" cy="663.6" r="1.1" class="p"/>
<path class="ld" style="stroke-width:1.3" d="M675.7 608.2L695.1 629.2"/>
</g>

<!-- p13.svg -->
<g id="p13">
<path class="w" style="stroke-width:1.5" d="M14.2 86.2C14 83.5 16.5 80 19.6 78.4C22 77.8 25 79 27.6 80.6L23.6 97.4C20.5 95.6 17 92.6 14.8 89.2Z"/>
<path d="M16.4 82.6C15.8 86 17.8 90.8 20.2 93.4M19 80.4C18.2 84.6 20.2 90.6 22.6 94.6M21.8 79.4C21 84 22.6 90 24.6 94.6" stroke="#111" stroke-width="1.5" fill="none"/>
<ellipse cx="29.3" cy="90.1" rx="6.2" ry="8.1" transform="rotate(12 29.3 90.1)" fill="#fff" stroke="#111" stroke-width="1.8"/>
<ellipse cx="29.6" cy="90.8" rx="4" ry="5" transform="rotate(12 29.6 90.8)" fill="#fff" stroke="#111" stroke-width="1.2"/>
<path class="p" d="M26.3 89.4L30 88.4M27 86.7C28.5 85.4 31.5 85.4 32.8 87.2"/>
<path class="fr" style="stroke-width:1.7" d="M35.8 90.9H64.6"/>
</g>


</g>
</svg>
</body></html>
